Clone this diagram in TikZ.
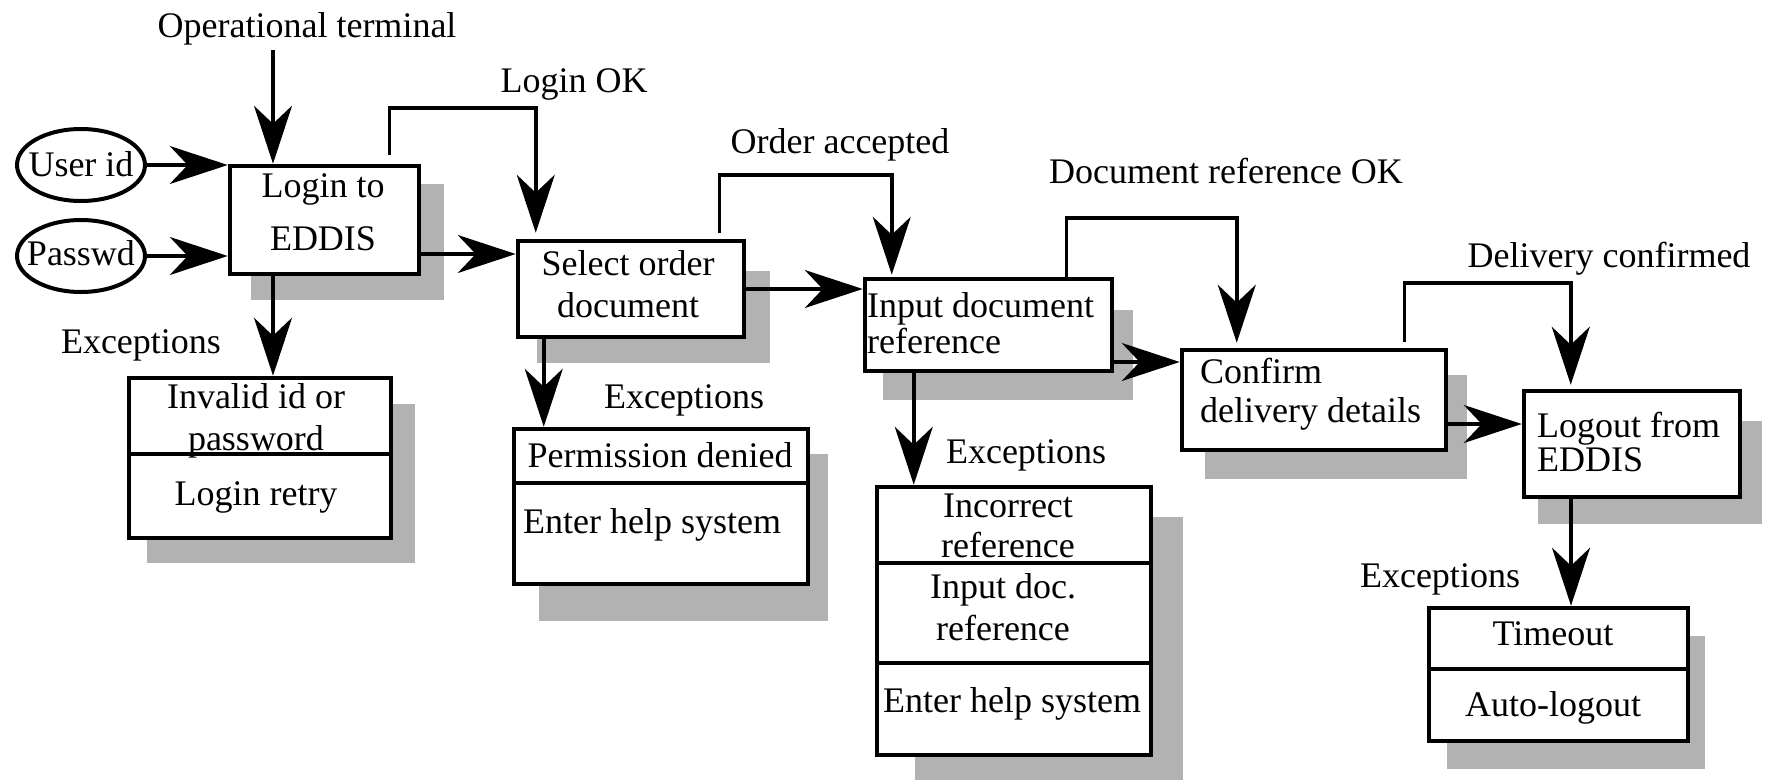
\documentclass[tikz,border=0pt]{standalone}
\usepackage{fontspec}
\setmainfont{Liberation Serif}
\usetikzlibrary{arrows.meta,shapes.geometric}

\begin{document}
\begin{tikzpicture}[x=1pt,y=-1pt,
  every node/.style={inner sep=0pt,font=\fontsize{36}{42}\selectfont},
  proc/.style={draw,line width=4.5pt,fill=white},
  io/.style={draw,ellipse,line width=4pt,minimum width=128pt,minimum height=72pt},
  txt/.style={anchor=base},
  txtl/.style={anchor=base west},
  flow/.style={line width=3.5pt,-{Stealth[length=58pt,width=38pt,inset=18pt]}},
  boxshadow/.style={fill=black!30},
  divider/.style={line width=4.5pt}]
\useasboundingbox (0,0) rectangle (1765,780);
\fill [boxshadow] (251,184) rectangle (444,300);
\fill [boxshadow] (537,271) rectangle (770,363);
\fill [boxshadow] (883,310) rectangle (1133,400);
\fill [boxshadow] (1205,375) rectangle (1467,479);
\fill [boxshadow] (1538,421) rectangle (1762,524);
\fill [boxshadow] (147,404) rectangle (415,563);
\fill [boxshadow] (539,454) rectangle (828,621);
\fill [boxshadow] (915,517) rectangle (1183,780);
\fill [boxshadow] (1447,636) rectangle (1705,769);
\node [io] (userid) at (81,165) {};
\node [io] (passwd) at (81,256) {};
\node [proc,minimum width=189pt,minimum height=108pt] (login) at (324.5,220) {};
\node [proc,minimum width=226pt,minimum height=96pt] (select) at (631,289) {};
\node [proc,minimum width=247pt,minimum height=92pt] (input) at (988.5,325) {};
\node [proc,minimum width=264pt,minimum height=100pt] (confirm) at (1314,400) {};
\node [proc,minimum width=216pt,minimum height=106pt] (logout) at (1632,444) {};
\node [proc,minimum width=262pt,minimum height=160pt] (exc1) at (260,458) {};
\node [proc,minimum width=294pt,minimum height=155pt] (exc2) at (661,506.5) {};
\node [proc,minimum width=274pt,minimum height=268pt] (exc3) at (1014,621) {};
\node [proc,minimum width=259pt,minimum height=133pt] (exc4) at (1558.5,674.5) {};
\draw [divider] (exc1.west |- 0,454) -- (exc1.east |- 0,454);
\draw [divider] (exc2.west |- 0,483) -- (exc2.east |- 0,483);
\draw [divider] (exc3.west |- 0,563) -- (exc3.east |- 0,563);
\draw [divider] (exc3.west |- 0,663) -- (exc3.east |- 0,663);
\draw [divider] (exc4.west |- 0,669) -- (exc4.east |- 0,669);
\node [txt] (t-userid) at (81,176) {User id};
\node [txt] (t-passwd) at (81,265) {Passwd};
\node [txt] (lblterm) at (307,37) {Operational terminal};
\node [txt] (lblloginok) at (574,92) {Login OK};
\node [txt] (lblorder) at (840,153) {Order accepted};
\node [txt] (lbldocref) at (1226,183) {Document reference OK};
\node [txt] (lbldeliv) at (1609,267) {Delivery confirmed};
\node [txt] (exlbl1) at (141,353) {Exceptions};
\node [txt] (exlbl2) at (684,408) {Exceptions};
\node [txt] (exlbl3) at (1026,463) {Exceptions};
\node [txt] (exlbl4) at (1440,587) {Exceptions};
\node [txt] (t-login1) at (323,197) {Login to};
\node [txt] (t-login2) at (323,250) {EDDIS};
\node [txt] (t-select1) at (628,275) {Select order};
\node [txt] (t-select2) at (628,317) {document};
\node [txtl] (t-input1) at (867,317) {Input document};
\node [txtl] (t-input2) at (867,353) {reference};
\node [txtl] (t-confirm1) at (1200,383) {Confirm};
\node [txtl] (t-confirm2) at (1200,422) {delivery details};
\node [txtl] (t-logout1) at (1537,437) {Logout from};
\node [txtl] (t-logout2) at (1537,471) {EDDIS};
\node [txt] (t-exc1a) at (256,408) {Invalid id or};
\node [txt] (t-exc1b) at (256,450) {password};
\node [txt] (t-exc1c) at (256,505) {Login retry};
\node [txt] (t-exc2a) at (660,467) {Permission denied};
\node [txt] (t-exc2b) at (652,533) {Enter help system};
\node [txt] (t-exc3a) at (1008,517) {Incorrect};
\node [txt] (t-exc3b) at (1008,557) {reference};
\node [txt] (t-exc3c) at (1003,598) {Input doc.};
\node [txt] (t-exc3d) at (1003,640) {reference};
\node [txt] (t-exc3e) at (1012,712) {Enter help system};
\node [txt] (t-exc4a) at (1553,645) {Timeout};
\node [txt] (t-exc4b) at (1553,716) {Auto-logout};
\coordinate (termfoot) at ([xshift=-34pt,yshift=-13pt]lblterm.base);
\coordinate (logintop) at ([xshift=-51.5pt]login.north);
\coordinate (loginout) at ([yshift=-34pt]login.east);
\coordinate (d1) at ([xshift=-51.5pt,yshift=4pt]login.south);
\coordinate (d2) at ([xshift=28pt]select.south west);
\coordinate (d3) at ([xshift=51pt]input.south west);
\coordinate (d4) at ([xshift=-61pt]logout.south);
\coordinate (inputout) at ([yshift=-37pt]input.east);
\coordinate (confirmout) at ([yshift=-24pt]confirm.east);
\draw [flow] (termfoot) -- (logintop);
\draw [flow] (userid.east) -- (userid.east -| login.west);
\draw [flow] (passwd.east) -- (passwd.east -| login.west);
\draw [flow] (loginout) -- (loginout -| select.west);
\draw [flow] (select.east) -- (select.east -| input.west);
\draw [flow] (inputout) -- (inputout -| confirm.west);
\draw [flow] (confirmout) -- (confirmout -| logout.west);
\draw [flow] (d1) -- (d1 |- exc1.north);
\draw [flow] (d2) -- (d2 |- exc2.north);
\draw [flow] (d3) -- (d3 |- exc3.north);
\draw [flow] (d4) -- (d4 |- exc4.north);
\draw [flow,shorten <=9pt,shorten >=6pt] ([xshift=-32pt]login.north east) -- ++(0,-56) -| ([xshift=20pt]select.north west);
\draw [flow,shorten <=6pt,shorten >=2pt] ([xshift=-27pt]select.north east) -- ++(0,-64) -| ([xshift=29pt]input.north west);
\draw [flow,shorten >=5pt] ([xshift=-48pt]input.north east) -- ++(0,-59) -| ([xshift=57pt]confirm.north west);
\draw [flow,shorten <=6pt,shorten >=4pt] ([xshift=-44pt]confirm.north east) -- ++(0,-65) -| ([xshift=49pt]logout.north west);
\end{tikzpicture}
\end{document}
